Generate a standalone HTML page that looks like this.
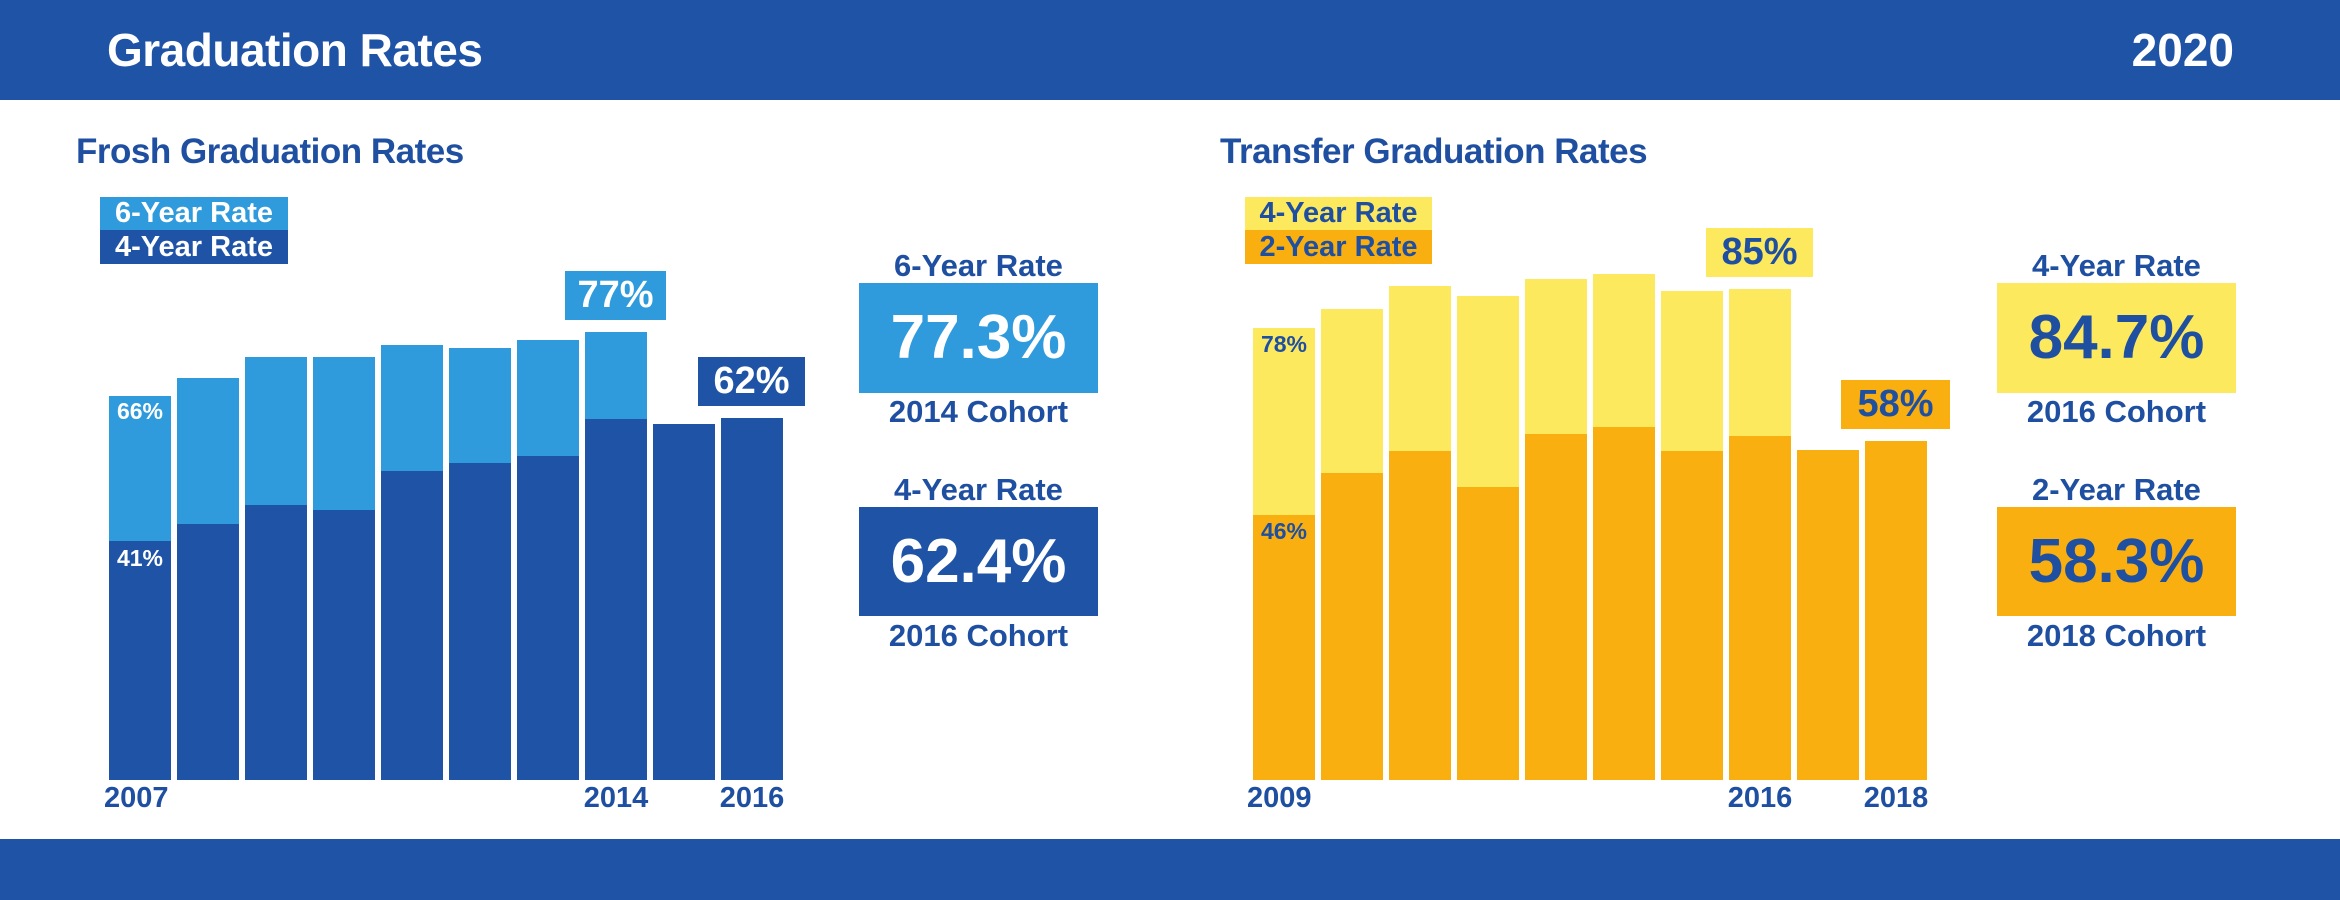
<!DOCTYPE html>
<html><head><meta charset="utf-8"><style>
body{margin:0;width:2340px;height:900px;position:relative;background:#fff;font-family:"Liberation Sans",sans-serif;overflow:hidden;font-weight:bold}
div{position:absolute;box-sizing:border-box}
.t{white-space:nowrap;text-align:center}
.hdr{left:0;top:0;width:2340px;height:100px;background:#1f53a6}
.ftr{left:0;top:839px;width:2340px;height:61px;background:#1f53a6}
.b{bottom:120px;width:62px}
.db{background:#1f53a6}.lb{background:#2f9bdc}.yl{background:#fde95e}.or{background:#f9af10}
.blue{color:#1f4fa0}.wh{color:#fff}
</style></head><body>
<div class="hdr"></div><div class="ftr"></div>
<div class="t wh" style="left:107px;top:23px;font-size:46px;letter-spacing:-0.5px">Graduation Rates</div>
<div class="t wh" style="left:2118px;top:23px;font-size:46px;width:116px;text-align:right">2020</div>

<div class="t blue" style="left:76px;top:132px;font-size:35px;letter-spacing:-0.5px">Frosh Graduation Rates</div>
<div class="lb wh t" style="left:100px;top:197px;width:188px;height:33px;font-size:29px;line-height:33px">6-Year Rate</div>
<div class="db wh t" style="left:100px;top:230px;width:188px;height:34px;font-size:29px;line-height:34px">4-Year Rate</div>

<div class="b lb" style="left:109px;top:396px"></div><div class="b db" style="left:109px;top:541px"></div>
<div class="b lb" style="left:177px;top:378px"></div><div class="b db" style="left:177px;top:524px"></div>
<div class="b lb" style="left:245px;top:357px"></div><div class="b db" style="left:245px;top:505px"></div>
<div class="b lb" style="left:313px;top:357px"></div><div class="b db" style="left:313px;top:510px"></div>
<div class="b lb" style="left:381px;top:345px"></div><div class="b db" style="left:381px;top:471px"></div>
<div class="b lb" style="left:449px;top:348px"></div><div class="b db" style="left:449px;top:463px"></div>
<div class="b lb" style="left:517px;top:340px"></div><div class="b db" style="left:517px;top:456px"></div>
<div class="b lb" style="left:585px;top:332px"></div><div class="b db" style="left:585px;top:419px"></div>
<div class="b db" style="left:653px;top:424px"></div>
<div class="b db" style="left:721px;top:418px"></div>
<div class="t wh" style="left:109px;width:62px;top:398px;font-size:23px">66%</div>
<div class="t wh" style="left:109px;width:62px;top:545px;font-size:23px">41%</div>
<div class="lb t wh" style="left:565px;top:271px;width:101px;height:49px;font-size:38px;line-height:49px">77%</div>
<div class="db t wh" style="left:698px;top:357px;width:107px;height:49px;font-size:38px;line-height:49px">62%</div>
<div class="t blue" style="left:104px;top:782px;font-size:29px">2007</div>
<div class="t blue" style="left:576px;width:80px;top:782px;font-size:29px">2014</div>
<div class="t blue" style="left:712px;width:80px;top:782px;font-size:29px">2016</div>

<div class="t blue" style="left:859px;width:239px;top:248px;font-size:31px">6-Year Rate</div>
<div class="lb t wh" style="left:859px;top:283px;width:239px;height:110px;font-size:62px;line-height:110px">77.3%</div>
<div class="t blue" style="left:859px;width:239px;top:394px;font-size:31px">2014 Cohort</div>
<div class="t blue" style="left:859px;width:239px;top:472px;font-size:31px">4-Year Rate</div>
<div class="db t wh" style="left:859px;top:507px;width:239px;height:109px;font-size:62px;line-height:109px">62.4%</div>
<div class="t blue" style="left:859px;width:239px;top:618px;font-size:31px">2016 Cohort</div>

<div class="t blue" style="left:1220px;top:132px;font-size:35px;letter-spacing:-0.5px">Transfer Graduation Rates</div>
<div class="yl blue t" style="left:1245px;top:197px;width:187px;height:33px;font-size:29px;line-height:33px">4-Year Rate</div>
<div class="or blue t" style="left:1245px;top:230px;width:187px;height:34px;font-size:29px;line-height:34px">2-Year Rate</div>

<div class="b yl" style="left:1253px;top:328px"></div><div class="b or" style="left:1253px;top:515px"></div>
<div class="b yl" style="left:1321px;top:309px"></div><div class="b or" style="left:1321px;top:473px"></div>
<div class="b yl" style="left:1389px;top:286px"></div><div class="b or" style="left:1389px;top:451px"></div>
<div class="b yl" style="left:1457px;top:296px"></div><div class="b or" style="left:1457px;top:487px"></div>
<div class="b yl" style="left:1525px;top:279px"></div><div class="b or" style="left:1525px;top:434px"></div>
<div class="b yl" style="left:1593px;top:274px"></div><div class="b or" style="left:1593px;top:427px"></div>
<div class="b yl" style="left:1661px;top:291px"></div><div class="b or" style="left:1661px;top:451px"></div>
<div class="b yl" style="left:1729px;top:289px"></div><div class="b or" style="left:1729px;top:436px"></div>
<div class="b or" style="left:1797px;top:450px"></div>
<div class="b or" style="left:1865px;top:441px"></div>
<div class="t blue" style="left:1253px;width:62px;top:331px;font-size:23px">78%</div>
<div class="t blue" style="left:1253px;width:62px;top:518px;font-size:23px">46%</div>
<div class="yl t blue" style="left:1706px;top:228px;width:107px;height:49px;font-size:38px;line-height:49px">85%</div>
<div class="or t blue" style="left:1841px;top:380px;width:109px;height:49px;font-size:38px;line-height:49px">58%</div>
<div class="t blue" style="left:1247px;top:782px;font-size:29px">2009</div>
<div class="t blue" style="left:1720px;width:80px;top:782px;font-size:29px">2016</div>
<div class="t blue" style="left:1856px;width:80px;top:782px;font-size:29px">2018</div>

<div class="t blue" style="left:1997px;width:239px;top:248px;font-size:31px">4-Year Rate</div>
<div class="yl t blue" style="left:1997px;top:283px;width:239px;height:110px;font-size:62px;line-height:110px">84.7%</div>
<div class="t blue" style="left:1997px;width:239px;top:394px;font-size:31px">2016 Cohort</div>
<div class="t blue" style="left:1997px;width:239px;top:472px;font-size:31px">2-Year Rate</div>
<div class="or t blue" style="left:1997px;top:507px;width:239px;height:109px;font-size:62px;line-height:109px">58.3%</div>
<div class="t blue" style="left:1997px;width:239px;top:618px;font-size:31px">2018 Cohort</div>
</body></html>
